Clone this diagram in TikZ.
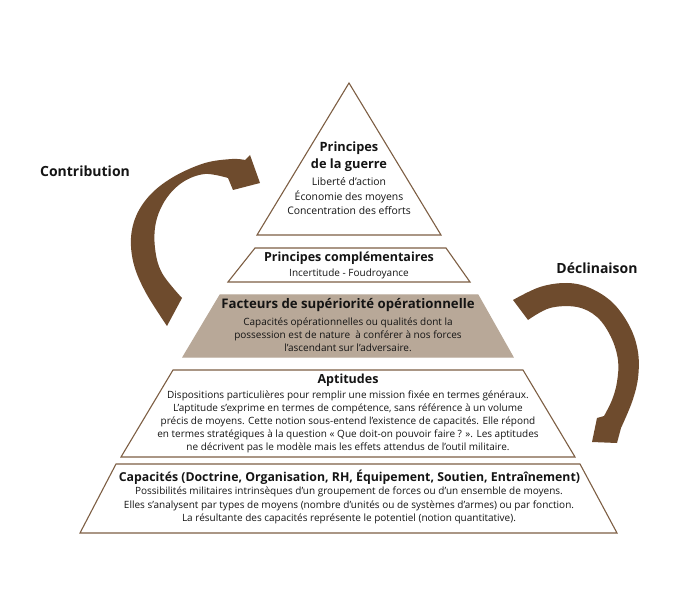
\documentclass[tikz,border=0pt]{standalone}
\usepackage{fontspec}
\setmainfont{Open Sans}
\usepackage{tikz}
\usetikzlibrary{positioning}
\definecolor{bark}{HTML}{6E4B2D}
\definecolor{rim}{HTML}{7D5E43}
\definecolor{taupe}{HTML}{B8A898}
\definecolor{ink}{HTML}{141414}
\tikzstyle{tier} = [draw=rim, line width=1.1pt, line join=miter]
\tikzstyle{head} = [text=ink, font=\bfseries\fontsize{12.5}{16.5}\selectfont, align=center, inner sep=0pt]
\tikzstyle{body} = [text=ink, font=\fontsize{10}{13}\selectfont, align=center, inner sep=0pt]
\tikzstyle{swoop} = [fill=bark]

\begin{document}
\begin{tikzpicture}[x=1pt, y=-1pt]
\useasboundingbox (0,0) rectangle (696,612);

% pyramid tiers
\draw[tier] (349,83) -- (441,235) -- (257,235) -- cycle;
\draw[tier] (255,248) -- (446,248) -- (470,282) -- (228,282) -- cycle;
\draw[tier, fill=taupe, draw=taupe] (220,295) -- (478,295) -- (513,357) -- (183,357) -- cycle;
\draw[tier] (173,370) -- (523,370) -- (575,457) -- (121,457) -- cycle;
\draw[tier] (116,464) -- (580,464) -- (617,533) -- (80,533) -- cycle;

% texts
\node (guerreHead) [head, font=\bfseries\fontsize{12.8}{17}\selectfont] at (349,156.5) {Principes\\de la guerre};
\node (guerreBody) [body, font=\fontsize{10.4}{14.5}\selectfont] at (349,196.5) {Liberté d’action\\Économie des moyens\\Concentration des efforts};
\node (complHead) [head] at (349,258) {Principes complémentaires};
\node (complBody) [body] at (349,274) {Incertitude - Foudroyance};
\node (factHead) [head, font=\bfseries\fontsize{13.2}{16.5}\selectfont] at (348,305) {Facteurs de supériorité opérationnelle};
\node (factBody) [body] at (348,335) {Capacités opérationnelles ou qualités dont la\\possession est de nature~~à conférer à nos forces\\l’ascendant sur l’adversaire.};
\node (aptHead) [head] at (348,380) {Aptitudes};
\node (aptBody) [body, font=\fontsize{10}{13.1}\selectfont] at (348,422) {Dispositions particulières pour remplir une mission fixée en termes généraux.\\L’aptitude s’exprime en termes de compétence, sans référence à un volume\\précis de moyens. Cette notion sous-entend l’existence de capacités. Elle répond\\en termes stratégiques à la question « Que doit-on pouvoir faire ? ». Les aptitudes\\ne décrivent pas le modèle mais les effets attendus de l’outil militaire.};
\node (capHead) [head, font=\bfseries\fontsize{12.3}{16.5}\selectfont] at (349.5,477) {Capacités (Doctrine, Organisation, RH, Équipement, Soutien, Entraînement)};
\node (capBody) [body, font=\fontsize{10}{13.4}\selectfont] at (349,505.5) {Possibilités militaires intrinsèques d’un groupement de forces ou d’un ensemble de moyens.\\Elles s’analysent par types de moyens (nombre d’unités ou de systèmes d’armes) ou par fonction.\\La résultante des capacités représente le potentiel (notion quantitative).};

% side arrows
\fill[swoop] plot[smooth, tension=0.6] coordinates {(167,326) (146,293) (134,265) (131,238) (137,214) (152,193) (175,176) (205,163) (232,159) (245,160)}
  -- (250,155) -- (260,183) -- (233,190)
  -- plot[smooth, tension=0.6] coordinates {(228,178) (205,174) (183,182) (166,199) (156,222) (155,248) (162,273) (182,298)} -- cycle;
\fill[swoop] plot[smooth, tension=0.6] coordinates {(513,300) (540,287) (567,283) (590,288) (613,303) (630,327) (638,352) (638,378) (632,402) (621,428)}
  -- (617,443) -- (592,442) -- (597,418)
  -- plot[smooth, tension=0.6] coordinates {(604,416) (612,400) (617,382) (618,360) (611,337) (597,317) (577,307) (550,308) (528,320)} -- cycle;

\node (contribLabel) [head, font=\bfseries\fontsize{14}{16}\selectfont] at (85,171) {Contribution};
\node (declinLabel) [head, font=\bfseries\fontsize{14}{16}\selectfont] at (597,268) {Déclinaison};
\end{tikzpicture}
\end{document}
